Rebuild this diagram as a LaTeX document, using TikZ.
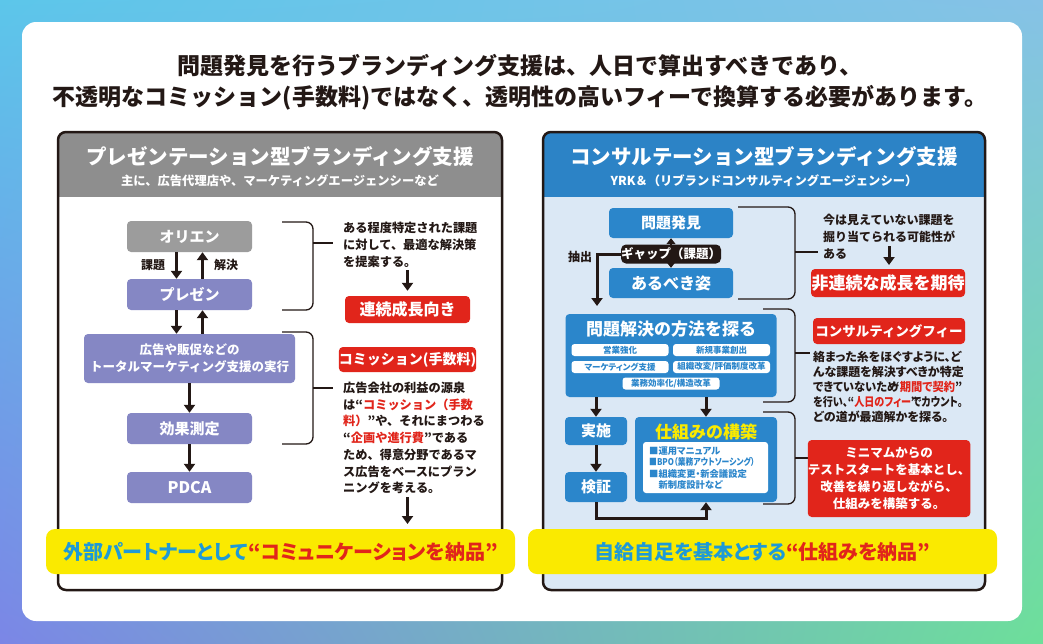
\documentclass[tikz,border=0pt]{standalone}
\usepackage{fontspec}
\usepackage{graphicx}
\setmainfont{Noto Sans CJK JP}
\newfontfamily\jpp{Noto Sans CJK JP}[RawFeature=+palt]
\usetikzlibrary{arrows.meta,shadings}
\definecolor{bgTL}{HTML}{5CC6EA}
\definecolor{bgTR}{HTML}{86C2E6}
\definecolor{bgBL}{HTML}{7B86E6}
\definecolor{bgBR}{HTML}{6DDF9A}
\definecolor{dark}{HTML}{231815}
\definecolor{hdrgray}{HTML}{8E8E8E}
\definecolor{hdrblue}{HTML}{2C83C6}
\definecolor{boxpurple}{HTML}{8587C4}
\definecolor{oriengray}{HTML}{9C9C9C}
\definecolor{myred}{HTML}{E1251B}
\definecolor{boxblue}{HTML}{2B86CB}
\definecolor{panelblue}{HTML}{DBE8F5}
\definecolor{myyellow}{HTML}{FAEA00}
\definecolor{bannerblue}{HTML}{1E9AD6}
\newcommand\myfz[2]{\fontsize{#1}{#2}\selectfont\bfseries}
\newcommand\myLq{\kern-0.5em“}
\newcommand\myRq{”\kern-0.5em}
\tikzset{
  arr/.style={draw=dark, line width=3pt, -{Triangle[length=8pt,width=11pt]}},
  brk/.style={draw=dark, line width=1.3pt, rounded corners=7pt},
  lbox/.style={fill=boxpurple, rounded corners=4pt, minimum width=125pt, minimum height=31pt, inner sep=0pt, text=white, font=\myfz{15}{18}},
  bbox/.style={fill=boxblue, rounded corners=4pt, inner sep=0pt, text=white, font=\myfz{15}{18}},
  redbox/.style={fill=myred, rounded corners=4pt, inner sep=0pt, text=white, align=center},
  pill/.style={fill=white, rounded corners=3pt, minimum width=97pt, minimum height=12pt, inner sep=0pt, text=boxblue, font=\jpp\myfz{8.5}{10}},
  body/.style={anchor=west, inner sep=0pt, align=left, text=dark},
  banner/.style={fill=myyellow, rounded corners=9pt, minimum height=45pt, inner sep=0pt, font=\jpp\myfz{20}{24}},
}
\begin{document}
\begin{tikzpicture}[x=1pt,y=-1pt]
\useasboundingbox (0,0) rectangle (1043,643);
\shade[upper left=bgTL, upper right=bgTR, lower left=bgBL, lower right=bgBR] (0,0) rectangle (1043,643);
\fill[white, rounded corners=14pt] (22,22) rectangle (1022,621);

% title
\node[font=\myfz{23}{28}, text=dark] (title1) at (520,66) {問題発見を行うブランディング支援は、人日で算出すべきであり、};
\node[font=\myfz{23}{28}, text=dark] (title2) at (520,98) {不透明なコミッション(手数料)ではなく、透明性の高いフィーで換算する必要があります。};

% left panel
\begin{scope}
\clip[rounded corners=8pt] (58,132) rectangle (502,590);
\fill[white] (58,132) rectangle (502,590);
\fill[hdrgray] (58,132) rectangle (502,197);
\end{scope}
\draw[dark, line width=2.5pt, rounded corners=8pt] (58,132) rectangle (502,590);
\node[white, font=\myfz{20.5}{24}] (lh1) at (280,157) {プレゼンテーション型ブランディング支援};
\node[white, font=\myfz{12.3}{14}] (lh2) at (280,181) {主に、広告代理店や、マーケティングエージェンシーなど};

% right panel
\begin{scope}
\clip[rounded corners=8pt] (543,132) rectangle (985,590);
\fill[panelblue] (543,132) rectangle (985,590);
\fill[hdrblue] (543,132) rectangle (985,197);
\end{scope}
\draw[dark, line width=2.5pt, rounded corners=8pt] (543,132) rectangle (985,590);
\node[white, font=\myfz{20.5}{24}] (rh1) at (764,157) {コンサルテーション型ブランディング支援};
\node[white, font=\myfz{12.3}{14}] (rh2) at (764,181) {YRK＆（リブランドコンサルティングエージェンシー）};

% left flow
\node[lbox, fill=oriengray] (orien) at (189.5,236.5) {オリエン};
\node[lbox] (prez) at (189.5,294.5) {プレゼン};
\node[lbox, minimum width=211pt, minimum height=49pt, align=center, font=\myfz{12.5}{17}] (exec) at (189.5,358.5) {広告や販促などの\\トータルマーケティング支援の実行};
\node[lbox] (kouka) at (189.5,428.5) {効果測定};
\node[lbox, font=\myfz{16}{18}] (pdca) at (189.5,487.5) {PDCA};

\draw[arr] ([xshift=-13pt]orien.south) -- ([xshift=-13pt]prez.north);
\draw[arr] ([xshift=13pt]prez.north) -- ([xshift=13pt]orien.south);
\node[font=\myfz{12}{14}, text=dark] (kadai) at (153,265) {課題};
\node[font=\myfz{12}{14}, text=dark] (kaiketsu) at (226,265) {解決};
\draw[arr] ([xshift=-13pt]prez.south) -- ([xshift=-13pt]prez.south |- exec.north);
\draw[arr] ([xshift=13pt]prez.south |- exec.north) -- ([xshift=13pt]prez.south);
\draw[arr] (exec.south) -- (kouka.north);
\draw[arr] (kouka.south) -- (pdca.north);

% left brackets
\draw[brk] (282,222) -- (313,222) -- (313,310) -- (282,310);
\draw[dark, line width=1.3pt] (313,243) -- (333,243);
\draw[brk] (282,332) -- (313,332) -- (313,444) -- (282,444);
\draw[dark, line width=1.3pt] (313,388) -- (333,388);

% left texts
\node[body, font=\myfz{12.2}{17}] (ltext1) at (343,245) {ある程度特定された課題\\に対して、最適な解決策\\を提案する。};
\node[redbox, minimum width=125pt, minimum height=27pt, font=\myfz{16}{18}] (renzoku) at (407.5,309.5) {連続成長向き};
\coordinate (la1) at (407.5,270);
\draw[arr] (la1) -- ([yshift=5pt]renzoku.north);
\node[redbox, minimum width=125pt, minimum height=25pt, font=\myfz{14}{16}] (commission) at (407.5,359.5) {コミッション(手数料)};
\node[body, font=\myfz{12.2}{16.7}] (ltext2) at (343,438) {広告会社の利益の源泉\\は“\textcolor{myred}{コミッション（手数}\\\textcolor{myred}{料）}”や、それにまつわる\\“\textcolor{myred}{企画や進行費}”である\\ため、得意分野であるマ\\ス広告をベースにプラン\\ニングを考える。};
\coordinate (la2) at (407.5,497);
\coordinate (la3) at (407.5,524);
\draw[arr] (la2) -- (la3);

% right flow
\node[bbox, minimum width=124pt, minimum height=30pt] (mondai) at (671,223) {問題発見};
\node[bbox, minimum width=124pt, minimum height=30pt, font=\myfz{16}{18}] (arubeki) at (671,283) {あるべき姿};
\draw[dark, line width=2pt, {Triangle[length=6pt,width=9pt]}-{Triangle[length=6pt,width=9pt]}] (mondai.south) -- (arubeki.north);
\node[fill=dark, rounded corners=5pt, minimum width=93pt, minimum height=19pt, inner sep=0pt, text=white, font=\myfz{12.5}{14}] (gap) at (671,254) {ギャップ（課題）};
\coordinate (extip) at (597,306);
\draw[arr] (gap.west) -| (extip);
\node[font=\myfz{12}{14}, text=dark] (chushutsu) at (580,257) {抽出};

\node[bbox, minimum width=211pt, minimum height=83pt] (tansaku) at (671,355.5) {};
\node[text=white, font=\myfz{17}{20}] (tansakuT) at (671,329) {問題解決の方法を探る};
\node[pill] (p1) at (620,350) {営業強化};
\node[pill] (p2) at (721.5,350) {新規事業創出};
\node[pill] (p3) at (620,367) {マーケティング支援};
\node[pill] (p4) at (721.5,367) {組織改変/評価制度改革};
\node[pill] (p5) at (671,383.5) {業務効率化/構造改革};

\node[bbox, minimum width=62pt, minimum height=28pt] (jisshi) at (596,431) {実施};
\node[bbox, minimum width=62pt, minimum height=30pt] (kensho) at (596,487) {検証};
\node[bbox, minimum width=142pt, minimum height=85pt] (shikumi) at (706,459.5) {};
\node[text=myyellow, font=\myfz{17}{20}] (shikumiT) at (706,432) {仕組みの構築};
\node[fill=white, rounded corners=3pt, minimum width=125pt, minimum height=51pt, inner sep=0pt] (shikumiIn) at (705.5,467.5) {};
\node[anchor=west, inner sep=0pt, align=left, text=boxblue, font=\jpp\myfz{9.3}{11.2}] (slist) at (649,468) {■運用マニュアル\\\scalebox{0.84}[1]{■BPO（業務アウトソーシング）}\\■組織変更・新会議設定\\\phantom{■}新制度設計など};

\draw[arr] (tansaku.south -| jisshi.north) -- (jisshi.north);
\draw[arr] (tansaku.south -| shikumi.north) -- (shikumi.north);
\draw[arr] (jisshi.south) -- (kensho.north);
\draw[arr] (kensho.south) -- ++(0,16) -| (shikumi.south);

% right brackets
\draw[brk] (738,207) -- (795,207) -- (795,299) -- (738,299);
\draw[dark, line width=1.3pt] (795,252) -- (818,252);
\draw[brk] (763,309) -- (795,309) -- (795,402) -- (763,402);
\draw[dark, line width=1.3pt] (795,353) -- (810,353);
\draw[brk] (763,412) -- (795,412) -- (795,504) -- (763,504);
\draw[dark, line width=1.3pt] (795,458) -- (810,458);

% right texts
\node[body, font=\myfz{12}{17}] (rtext1) at (823,237) {今は見えていない課題を\\掘り当てられる可能性が\\ある};
\coordinate (ra1) at (889,246);
\coordinate (ra2) at (889,265);
\draw[arr] (ra1) -- (ra2);
\node[redbox, minimum width=154pt, minimum height=28pt, font=\myfz{17}{20}] (hirenzoku) at (888,283) {非連続な成長を期待};
\node[redbox, minimum width=152pt, minimum height=26pt, font=\myfz{13.5}{16}] (fee) at (889,331) {コンサルティングフィー};
\node[body, font=\jpp\myfz{12}{15}] (rtext2) at (813,387) {絡まった糸をほぐすように、ど\\んな課題を解決すべきか特定\\\scalebox{0.94}[1]{できていないため\myLq\textcolor{myred}{期間で契約}\myRq}\\\scalebox{0.84}[1]{を行い、“\textcolor{myred}{人日のフィー}\myRq でカウント。}\\どの道が最適解かを探る。};
\node[redbox, minimum width=152pt, minimum height=77pt, font=\myfz{12.5}{16.7}] (minimum) at (889,478.5) {ミニマムからの\\テストスタートを基本とし、\\改善を繰り返しながら、\\仕組みを構築する。};

% banners
\node[banner, minimum width=469pt] (lbanner) at (280.5,551.5) {\textcolor{bannerblue}{外部パートナーとして}\textcolor{myred}{“コミュニケーションを納品”}};
\node[banner, minimum width=469pt] (rbanner) at (762.5,551.5) {\textcolor{bannerblue}{自給自足を基本とする}\textcolor{myred}{“仕組みを納品”}};
\end{tikzpicture}
\end{document}
